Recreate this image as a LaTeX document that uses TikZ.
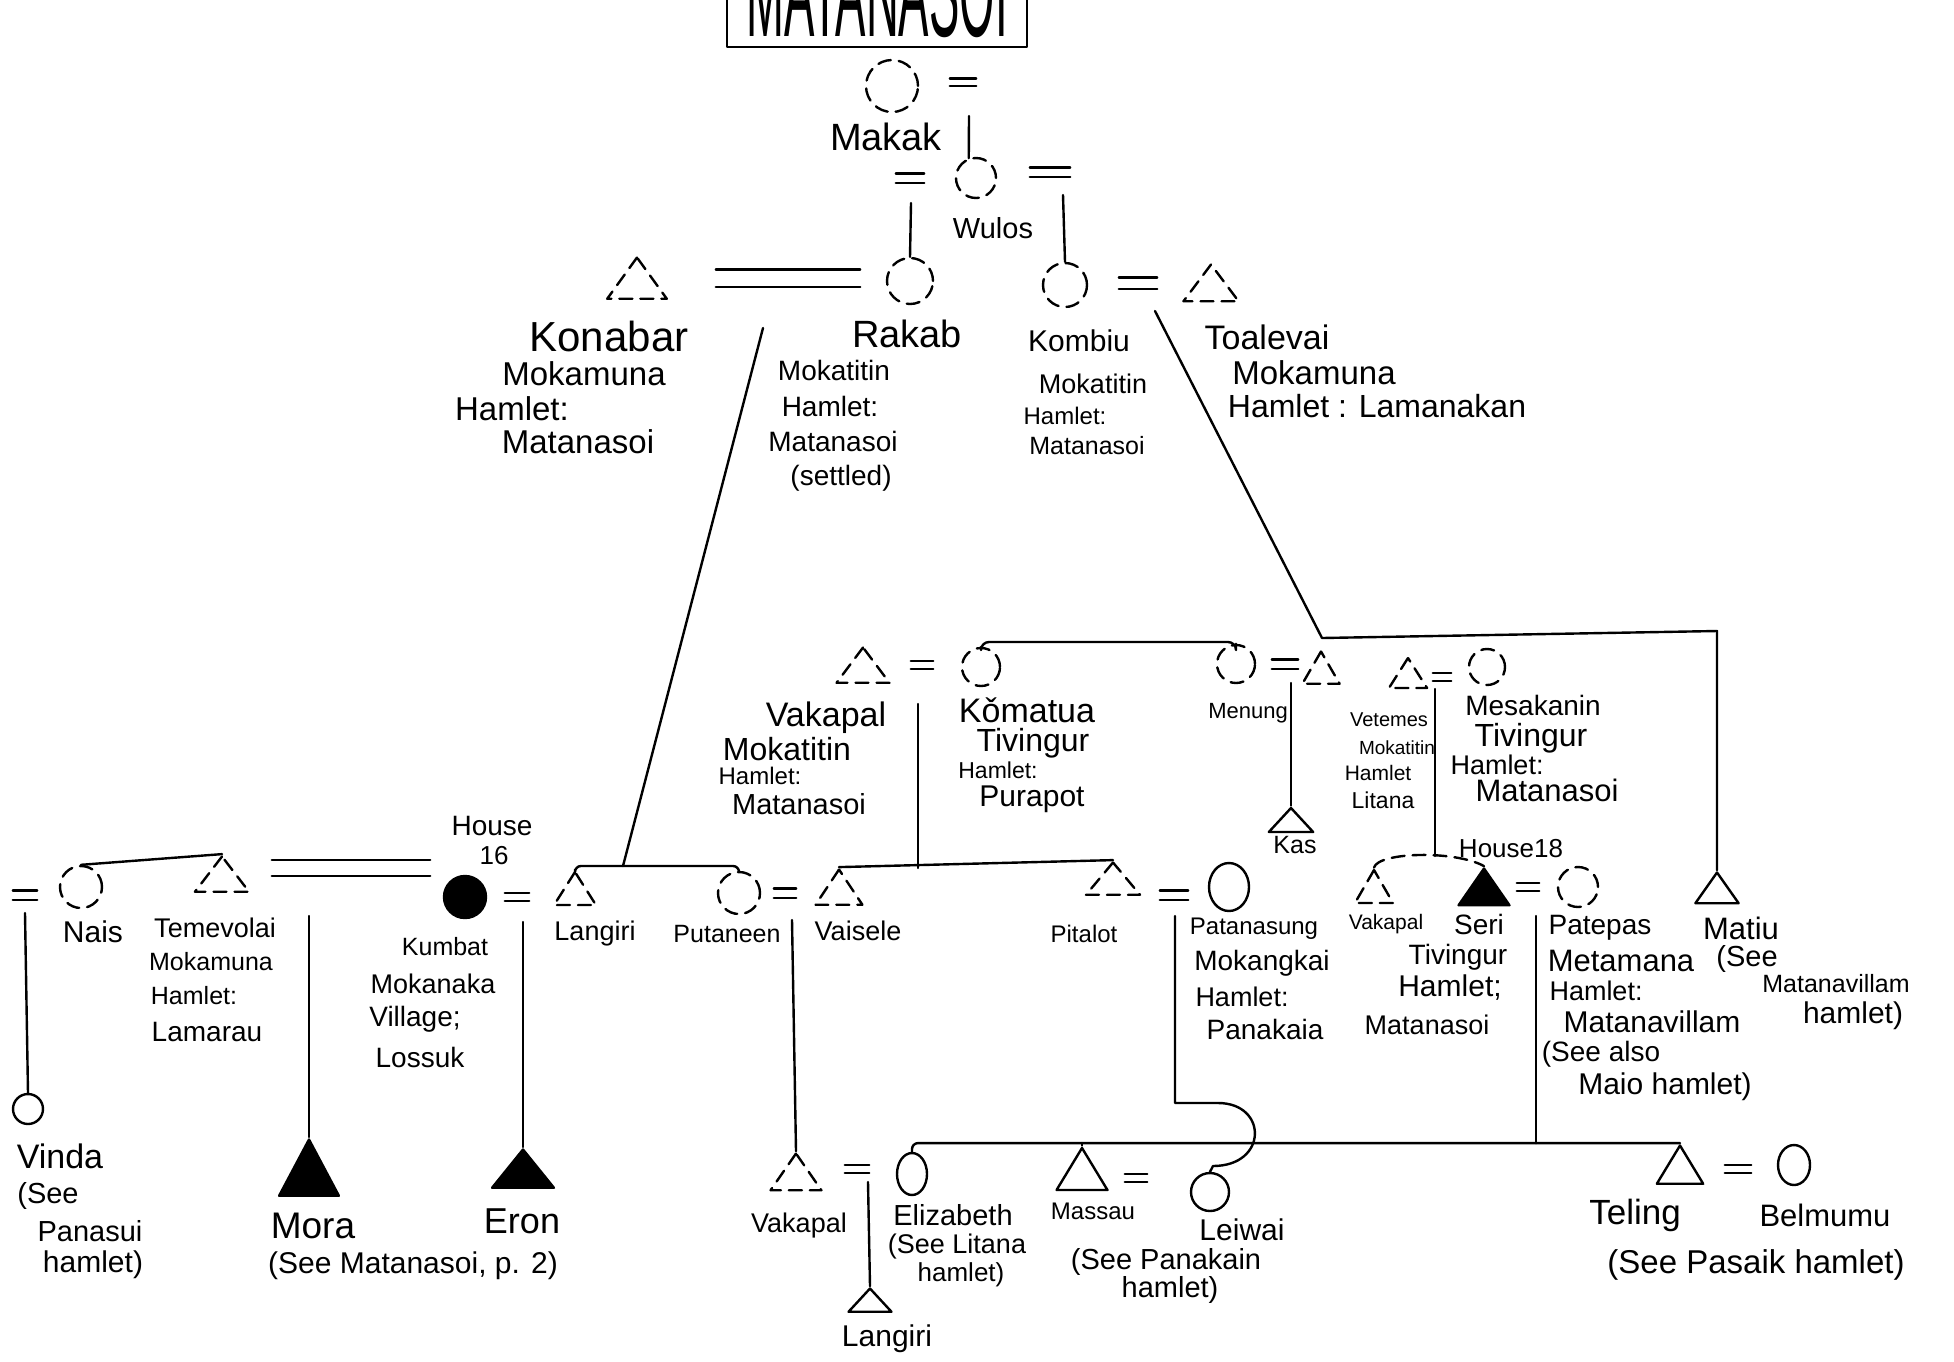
\documentclass[tikz,border=0pt]{standalone}
\usepackage{fontspec}
\setmainfont{Liberation Sans}
\usetikzlibrary{shapes.geometric}
\tikzset{
  ln/.style={line width=2.4pt, line cap=round, line join=round},
  brk/.style={dash pattern=on 13pt off 8pt},
  fem/.style={circle, draw, ln, inner sep=0pt, minimum size=#1},
  femd/.style={fem=#1, brk},
  femf/.style={fem=#1, fill=black},
  fov/.style 2 args={ellipse, draw, ln, inner sep=0pt, minimum width=#1, minimum height=#2},
  mal/.style={regular polygon, regular polygon sides=3, draw, ln, inner sep=0pt, minimum size=#1},
  mald/.style={mal=#1, brk},
  malf/.style={mal=#1, fill=black},
  hw/.style={font=\fontsize{#1pt}{#1pt}\selectfont, inner sep=0pt},
}
% marriage sign: two short parallel strokes
\newcommand\wedmark[5]{%
  \node[inner sep=0pt, minimum width=#4pt, minimum height=#5pt] (#1) at (#2,#3) {};
  \draw[ln] (#1.north west) -- (#1.north east) (#1.south west) -- (#1.south east);}
\begin{document}
\begin{tikzpicture}[x=1pt,y=-1pt]
\useasboundingbox (0,0) rectangle (1954,1361);
\fill[white] (0,0) rectangle (1954,1361);
\clip (0,0) rectangle (1954,1361);

% ---- heading box (only its lower part lies on the sheet)
\draw[ln] (727,0) -- (727,47) -- (1027,47) -- (1027,0);
\node[hw=130, xscale=0.35, anchor=base] (title) at (877,36) {MATANASOI};

% ---- first generations
\node[femd=52] (makak) at (892,86) {};
\wedmark{eqMk}{963}{82}{26}{7}
\node[hw=38] (tMakak) at (886,137) {Makak};
\coordinate (dMk) at (969,116);
\node[femd=40] (wulos) at (976,178) {};
\wedmark{eqWa}{910}{178}{28}{9}
\wedmark{eqWb}{1050}{172}{40}{9}
\node[hw=29] (tWulos) at (993,228) {Wulos};
\draw[ln] (dMk) -- (wulos.110);
\coordinate (dWa) at (911,203);
\coordinate (dWb) at (1063,195);

\node[mald=55, xscale=1.25] (konabar) at (637,285) {};
\wedmark{eqKR}{788}{278}{144}{17}
\node[femd=46] (rakab) at (910,281) {};
\node[femd=44] (kombiu) at (1065,285) {};
\wedmark{eqKT}{1138}{283}{38}{11}
\node[mald=49, xscale=1.3] (toalevai) at (1211,289) {};
\draw[ln] (dWa) -- (rakab.north);
\draw[ln] (dWb) -- (kombiu.north);

\node[hw=42] (tKon1) at (609,336) {Konabar};
\node[hw=33] (tKon2) at (584,374) {Mokamuna};
\node[hw=33] (tKon3) at (512,409) {Hamlet:};
\node[hw=33] (tKon4) at (578,442) {Matanasoi};
\node[hw=38] (tRak1) at (907,334) {Rakab};
\node[hw=28] (tRak2) at (834,370) {Mokatitin};
\node[hw=28] (tRak3) at (830,406) {Hamlet:};
\node[hw=28] (tRak4) at (833,441) {Matanasoi};
\node[hw=28] (tRak5) at (841,478) {(settled)};
\node[hw=30] (tKom1) at (1079,341) {Kombiu};
\node[hw=27] (tKom2) at (1093,384) {Mokatitin};
\node[hw=24] (tKom3) at (1065,416) {Hamlet:};
\node[hw=25] (tKom4) at (1087,446) {Matanasoi};
\node[hw=34] (tToa1) at (1267,337) {Toalevai};
\node[hw=33] (tToa2) at (1314,373) {Mokamuna};
\node[hw=32] (tToa3) at (1377,406) {Hamlet : Lamanakan};

% ---- long descent lines
\coordinate (dKR) at (763,328);
\coordinate (jL) at (623,866);
\draw[ln] (dKR) -- (jL);
\coordinate (dKT) at (1155,311);
\coordinate (rdA) at (1322,638);
\coordinate (rdB) at (1717,631);

% ---- third generation
\node[mald=47, xscale=1.3] (vakapalA) at (863,671) {};
\wedmark{eqVK}{922}{665}{22}{8}
\node[femd=38] (komatua) at (981,667) {};
\node[femd=38] (menung) at (1236,664) {};
\wedmark{eqMn}{1285}{664}{26}{9}
\node[mald=43] (toaSon) at (1321,673) {};
\node[mal=32, xscale=1.6] (kas) at (1291,824) {};
\node[mald=40, xscale=1.1] (vetemes) at (1408,678) {};
\wedmark{eqVM}{1442}{677}{18}{8}
\node[femd=36] (mesakanin) at (1487,667) {};
\node[mal=41, xscale=1.22] (matiu) at (1717,893) {};

\draw[ln] (dKT) -- (rdA) -- (rdB) -- (matiu.north);
\coordinate (jKM) at (1110,642);
\draw[ln, rounded corners=8] (komatua.north) |- (jKM) -| (menung.north);
\coordinate (dMn) at (1291,683);
\draw[ln] (dMn) -- (kas.north);

\node[hw=34] (tVakA1) at (826,718) {Vakapal};
\node[hw=32] (tVakA2) at (787,749) {Mokatitin};
\node[hw=24] (tVakA3) at (760,776) {Hamlet:};
\node[hw=29] (tVakA4) at (799,804) {Matanasoi};
\node[hw=34] (tKomA1) at (1027,710) {Kǒmatua};
\node[hw=32] (tKomA2) at (1033,743) {Tivingur};
\node[hw=23] (tKomA3) at (998,770) {Hamlet:};
\node[hw=30] (tKomA4) at (1032,799) {Purapot};
\node[hw=22] (tMenung) at (1248,713) {Menung};
\node[hw=25] (tKas) at (1295,845) {Kas};
\node[hw=20] (tVet1) at (1389,720) {Vetemes};
\node[hw=19] (tVet2) at (1397,748) {Mokatitin};
\node[hw=21] (tVet3) at (1378,773) {Hamlet};
\node[hw=23] (tVet4) at (1383,800) {Litana};
\node[hw=28] (tMes1) at (1533,705) {Mesakanin};
\node[hw=32] (tMes2) at (1531,738) {Tivingur};
\node[hw=27] (tMes3) at (1497,765) {Hamlet:};
\node[hw=31] (tMes4) at (1547,790) {Matanasoi};

% ---- fourth generation
\wedmark{eqNa}{25}{895}{24}{9}
\node[femd=42] (nais) at (81,887) {};
\node[mald=47, xscale=1.33] (temevolai) at (222,880) {};
\draw[ln] (nais.north) -- (temevolai.north);
\wedmark{eqTK}{351}{868}{158}{16}
\node[femf=42] (kumbat) at (465,897) {};
\wedmark{eqKL}{517}{897}{24}{8}
\node[mald=44, xscale=1.1] (langiriA) at (575,894) {};
\node[femd=42] (putaneen) at (739,893) {};
\wedmark{eqPV}{785}{893}{22}{9}
\node[mald=47, xscale=1.15] (vaisele) at (839,893) {};
\node[mald=43, xscale=1.45] (pitalot) at (1113,884) {};
\wedmark{eqPP}{1174}{895}{28}{9}
\node[fov={40}{48}] (patanasung) at (1229,887) {};
\node[mald=44] (vakapalB) at (1374,892) {};
\node[malf=49, xscale=1.2] (seri) at (1484,893) {};
\wedmark{eqSP}{1528}{887}{22}{8}
\node[femd=40] (patepas) at (1578,887) {};

\draw[ln, rounded corners=6] (langiriA.north) |- (jL) -| (putaneen.north);
\coordinate (dVK) at (918,704);
\coordinate (jVP) at (918,868);
\draw[ln] (dVK) -- (jVP);
\draw[ln] (vaisele.north) -- (pitalot.north);
\coordinate (dVM) at (1435,689);
\coordinate (jVS) at (1435,856);
\draw[ln] (dVM) -- (jVS);
\draw[ln, brk] (vakapalB.north) .. controls (1378,852) and (1455,850) .. (seri.north);

\node[hw=28] (tHouseA) at (492,826) {House};
\node[hw=26] (tHouseB) at (494,856) {16};
\node[hw=30] (tNais) at (93,932) {Nais};
\node[hw=27] (tTem1) at (215,928) {Temevolai};
\node[hw=25] (tTem2) at (211,962) {Mokamuna};
\node[hw=25] (tTem3) at (194,996) {Hamlet:};
\node[hw=28] (tTem4) at (207,1032) {Lamarau};
\node[hw=25] (tKum1) at (445,947) {Kumbat};
\node[hw=27] (tKum2) at (433,984) {Mokanaka};
\node[hw=28] (tKum3) at (415,1019) {Village;};
\node[hw=28] (tKum4) at (420,1057) {Lossuk};
\node[hw=27] (tLangA) at (595,934) {Langiri};
\node[hw=25] (tPut) at (727,934) {Putaneen};
\node[hw=27] (tVais) at (858,931) {Vaisele};
\node[hw=24] (tPit) at (1084,934) {Pitalot};
\node[hw=24] (tPat1) at (1254,929) {Patanasung};
\node[hw=28] (tPat2) at (1262,963) {Mokangkai};
\node[hw=27] (tPat3) at (1242,997) {Hamlet:};
\node[hw=28] (tPat4) at (1265,1029) {Panakaia};
\node[hw=21] (tVakB) at (1386,924) {Vakapal};
\node[hw=28] (tSer1) at (1479,924) {Seri};
\node[hw=28] (tSer2) at (1458,957) {Tivingur};
\node[hw=30] (tSer3) at (1450,988) {Hamlet;};
\node[hw=27] (tSer4) at (1427,1025) {Matanasoi};
\node[hw=26] (tHouseC) at (1511,849) {House18};
\node[hw=28] (tPte1) at (1600,928) {Patepas};
\node[hw=31] (tPte2) at (1621,961) {Metamana};
\node[hw=27] (tPte3) at (1596,991) {Hamlet:};
\node[hw=30] (tPte4) at (1652,1022) {Matanavillam};
\node[hw=28] (tPte5) at (1601,1054) {(See also};
\node[hw=30] (tPte6) at (1665,1087) {Maio hamlet)};
\node[hw=31] (tMat1) at (1741,928) {Matiu};
\node[hw=29] (tMat2) at (1747,959) {(See};
\node[hw=25] (tMat3) at (1836,984) {Matanavillam};
\node[hw=30] (tMat4) at (1853,1016) {hamlet)};

% ---- fifth generation
\node[fem=30] (vinda) at (28,1109) {};
\coordinate (dNa) at (25,913);
\draw[ln] (dNa) -- (vinda.north);
\node[malf=75, xscale=0.92] (mora) at (309,1177) {};
\coordinate (dTK) at (309,916);
\draw[ln] (dTK) -- (mora.north);
\node[malf=51, xscale=1.4] (eron) at (523,1175) {};
\coordinate (dKL) at (523,922);
\draw[ln] (dKL) -- (eron.north);
\node[mald=49, xscale=1.2] (vakapalC) at (796,1178) {};
\coordinate (dPV) at (792,920);
\draw[ln] (dPV) -- (vakapalC.north);
\wedmark{eqVE}{857}{1169}{24}{8}
\node[fov={30}{42}] (elizabeth) at (912,1174) {};
\node[mal=56, xscale=1.05] (massau) at (1082,1176) {};
\wedmark{eqML}{1136}{1178}{22}{8}
\node[fem=38] (leiwai) at (1210,1192) {};
\node[mal=51, xscale=1.05] (teling) at (1680,1171) {};
\wedmark{eqTB}{1738}{1169}{26}{8}
\node[fov={32}{40}] (belmumu) at (1794,1165) {};
\node[mal=31, xscale=1.6] (langiriB) at (870,1304) {};
\coordinate (dVE) at (868,1182);
\draw[ln] (dVE) -- (langiriB.north);

\draw[ln, rounded corners=6] (elizabeth.north) |- (teling.north);
\draw[ln] (massau.north) -- (massau.north |- teling.north);
\coordinate (dSP) at (1536,916);
\draw[ln] (dSP) -- (dSP |- teling.north);
% descent from Pitalot = Patanasung hops over the sibling line
\coordinate (dPP) at (1175,916);
\coordinate (hpA) at (1175,1103);
\coordinate (hpB) at (1218,1103);
\coordinate (hpC) at (1213,1166);
\draw[ln] (dPP) -- (hpA) -- (hpB) .. controls (1268,1103) and (1268,1166) .. (hpC) -- (leiwai.north);

\node[hw=34] (tVin1) at (60,1156) {Vinda};
\node[hw=29] (tVin2) at (48,1196) {(See};
\node[hw=29] (tVin3) at (90,1231) {Panasui};
\node[hw=30] (tVin4) at (93,1265) {hamlet)};
\node[hw=37] (tMora) at (313,1226) {Mora};
\node[hw=30] (tMora2) at (413,1266) {(See Matanasoi, p. 2)};
\node[hw=36] (tEron) at (522,1221) {Eron};
\node[hw=27] (tVakC) at (799,1225) {Vakapal};
\node[hw=29] (tEli1) at (953,1215) {Elizabeth};
\node[hw=27] (tEli2) at (957,1246) {(See Litana};
\node[hw=26] (tEli3) at (961,1275) {hamlet)};
\node[hw=24] (tMas1) at (1093,1211) {Massau};
\node[hw=29] (tMas2) at (1166,1262) {(See Panakain};
\node[hw=29] (tMas3) at (1170,1290) {hamlet)};
\node[hw=30] (tLei) at (1242,1230) {Leiwai};
\node[hw=30] (tLangB) at (887,1339) {Langiri};
\node[hw=35] (tTel) at (1635,1215) {Teling};
\node[hw=31] (tBel) at (1825,1215) {Belmumu};
\node[hw=33] (tTel2) at (1756,1265) {(See Pasaik hamlet)};
\end{tikzpicture}
\end{document}
